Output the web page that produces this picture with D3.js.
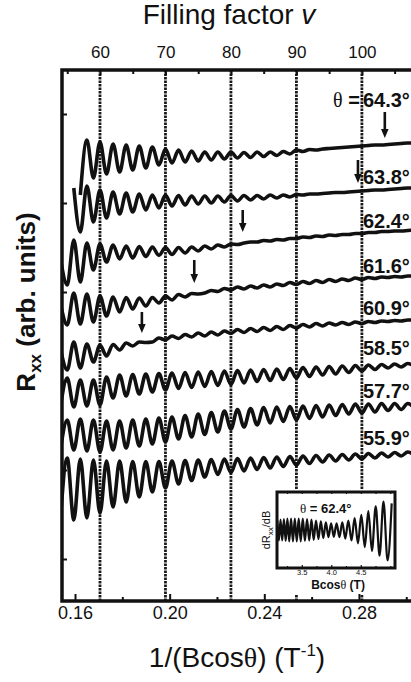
<!DOCTYPE html>
<html>
<head>
<meta charset="utf-8">
<script src="https://cdn.jsdelivr.net/npm/d3@7"></script>
<style>
  body { margin: 0; background: #fff; }
  svg { display: block; }
  text { font-family: "Liberation Sans", Arial, sans-serif; fill: #111; }
</style>
</head>
<body>
<svg id="chart" width="411" height="682"></svg>
<script>
// filling factor grid (extrema positions of the SdH oscillations)
const nuGrid = [54, 55, 56, 57, 58, 59, 60, 61, 62, 63, 64, 65, 66, 67, 68, 69, 70, 71, 72, 73,
  74, 75, 76, 77, 78, 79, 80, 81, 82, 83, 84, 85, 86, 87, 88, 89, 90, 91, 92, 93,
  94, 95, 96, 97, 98, 99, 100, 101, 102, 103, 104, 105, 106, 107, 108];

// Rxx traces (arb. units, offset for clarity), one value per nuGrid entry
const rxx643 = [null, null, null, 40.5, 46.0, 42.2, 45.8, 42.6, 45.6, 42.8, 45.5, 43.0, 45.4, 43.2, 45.3, 43.5, 45.1, 43.7, 45.0, 43.8,
  44.9, 43.9, 44.8, 44.0, 44.8, 44.1, 44.8, 44.2, 44.75, 44.25, 44.8, 44.35, 44.8, 44.45, 44.85, 44.6, 45.0, 44.85, 45.05, 45.0,
  45.1, 45.15, 45.2, 45.25, 45.3, 45.35, 45.4, 45.45, 45.5, 45.5, 45.55, 45.6, 45.65, 45.7, 45.7];
const rxx638 = [null, null, 41.2, 36.8, 41.4, 37.8, 41.0, 38.2, 40.8, 38.6, 40.7, 38.8, 40.6, 39.0, 40.5, 39.2, 40.5, 39.4, 40.45, 39.5,
  40.4, 39.6, 40.4, 39.7, 40.4, 39.8, 40.45, 39.9, 40.45, 40.0, 40.45, 40.1, 40.5, 40.2, 40.5, 40.3, 40.55, 40.5, 40.6, 40.6,
  40.65, 40.7, 40.75, 40.75, 40.8, 40.85, 40.9, 40.95, 41.0, 41.0, 41.05, 41.1, 41.15, 41.2, 41.2];
const rxx624 = [34.0, 31.5, 36.0, 31.8, 35.7, 33.0, 35.6, 33.8, 35.5, 34.1, 35.4, 34.2, 35.35, 34.35, 35.3, 34.45, 35.25, 34.55, 35.25, 34.7,
  35.3, 34.9, 35.4, 35.1, 35.5, 35.3, 35.6, 35.55, 35.7, 35.8, 35.8, 35.95, 35.9, 36.05, 36.0, 36.15, 36.15, 36.3, 36.25, 36.4,
  36.35, 36.5, 36.45, 36.55, 36.55, 36.65, 36.65, 36.75, 36.75, 36.85, 36.85, 36.9, 36.9, 36.95, 37.0];
const rxx616 = [29.5, 27.5, 30.7, 27.6, 30.6, 27.8, 30.4, 28.4, 30.3, 28.8, 30.25, 29.1, 30.2, 29.4, 30.25, 29.7, 30.4, 30.0, 30.55, 30.3,
  30.65, 30.6, 30.7, 30.95, 30.85, 31.15, 31.0, 31.3, 31.1, 31.4, 31.2, 31.5, 31.3, 31.6, 31.45, 31.75, 31.55, 31.85, 31.65, 31.95,
  31.75, 32.05, 31.85, 32.1, 31.95, 32.2, 32.05, 32.25, 32.15, 32.3, 32.25, 32.35, 32.3, 32.4, 32.4];
const rxx609 = [25.0, 23.0, 25.8, 23.2, 25.6, 23.8, 25.5, 24.4, 25.55, 25.0, 25.7, 25.4, 25.8, 25.75, 25.8, 26.2, 26.0, 26.4, 26.15, 26.55,
  26.3, 26.7, 26.4, 26.8, 26.5, 26.9, 26.65, 27.05, 26.75, 27.15, 26.85, 27.25, 26.95, 27.35, 27.05, 27.45, 27.2, 27.55, 27.3, 27.65,
  27.4, 27.7, 27.5, 27.75, 27.55, 27.8, 27.65, 27.85, 27.75, 27.9, 27.85, 27.95, 27.9, 28.0, 28.0];
const rxx585 = [19.5, 22.2, 19.3, 22.0, 19.4, 22.0, 19.5, 22.3, 20.2, 22.5, 20.4, 22.55, 20.6, 22.6, 20.8, 22.65, 21.0, 22.7, 21.15, 22.75,
  21.25, 22.8, 21.35, 22.85, 21.45, 22.9, 21.55, 22.95, 21.7, 23.0, 21.85, 23.05, 21.95, 23.1, 22.05, 23.15, 22.2, 23.25, 22.35, 23.3,
  22.5, 23.35, 22.6, 23.4, 22.75, 23.45, 22.9, 23.5, 23.05, 23.55, 23.2, 23.6, 23.3, 23.65, 23.4];
const rxx577 = [15.2, 18.0, 15.0, 18.1, 14.9, 18.0, 14.8, 17.9, 15.0, 17.9, 15.2, 18.0, 15.4, 18.1, 15.6, 18.2, 15.8, 18.3, 16.1, 18.45,
  16.3, 18.6, 16.55, 18.75, 16.8, 18.9, 17.1, 19.05, 17.3, 19.15, 17.5, 19.25, 17.7, 19.3, 17.85, 19.35, 18.0, 19.4, 18.15, 19.45,
  18.3, 19.5, 18.45, 19.55, 18.6, 19.6, 18.7, 19.6, 18.8, 19.65, 18.95, 19.65, 19.05, 19.65, 19.2];
const rxx559 = [8.5, 14.2, 8.0, 14.1, 8.2, 14.0, 8.7, 13.9, 9.3, 13.9, 9.8, 13.85, 10.3, 13.85, 10.8, 13.85, 11.2, 13.9, 11.6, 13.95,
  11.95, 14.0, 12.3, 14.05, 12.55, 14.1, 12.75, 14.15, 12.9, 14.2, 13.05, 14.25, 13.2, 14.3, 13.35, 14.35, 13.5, 14.4, 13.65, 14.45,
  13.8, 14.5, 13.9, 14.55, 14.0, 14.6, 14.1, 14.65, 14.2, 14.7, 14.3, 14.75, 14.4, 14.8, 14.5];

const angles = ["64.3", "63.8", "62.4", "61.6", "60.9", "58.5", "57.7", "55.9"];
const traces = [rxx643, rxx638, rxx624, rxx616, rxx609, rxx585, rxx577, rxx559];
const labelLevel = [49.3, 41.6, 37.2, 32.7, 28.5, 24.5, 20.2, 15.5];

// arrows marking the phase inversion
const arrowNu = [103.5, 99.4, 81.8, 74.4, 66.4];
const arrowFrom = [48.8, 44.0, 39.0, 34.0, 28.8];
const arrowTo = [46.2, 41.7, 36.8, 31.7, 26.7];

// axes
const nuMajor = [60, 70, 80, 90, 100];
const nuMinor = [55, 65, 75, 85, 95, 105];
const invMajor = [0.16, 0.20, 0.24, 0.28];
const invMinor = [0.18, 0.22, 0.26, 0.30];
const yTicks = [4.1, 13.0, 21.9, 30.8, 39.7, 48.6];

// inset: dRxx/dB at 62.4 deg
const insetB = [3.085, 3.112, 3.140, 3.168, 3.197, 3.227, 3.256, 3.287, 3.318, 3.350, 3.382, 3.415, 3.448, 3.482, 3.517,
  3.553, 3.589, 3.626, 3.664, 3.702, 3.741, 3.782, 3.823, 3.865, 3.908, 3.952, 3.997, 4.043, 4.090, 4.138,
  4.187, 4.237, 4.289, 4.342, 4.396, 4.452, 4.509, 4.568, 4.628, 4.689, 4.753, 4.818, 4.885, 4.954, 5.024];
const insetD = [10, -11, 11, -11, 11.5, -11.5, 12, -12, 12, -12, 12, -12, 12, -12, 12,
  -11.5, 11.5, -11, 11, -10.5, 10, -9.5, 9, -8.5, 8, -7.5, 7, -7, 7, -7.5,
  8, -9, 10, -11, 12.5, -14, 16, -18, 20, -22, 25, -27, 30, -32, 28];
const insetTicks = [3.5, 4.0, 4.5];
const insetMinor = [3.25, 3.75, 4.25, 4.75, 5.0];

const plotL = 62, plotT = 70, plotB = 601, plotR = 411;
const svg = d3.select('#chart');

const xNu = d3.scaleLinear().domain([54.2, 107.5]).range([plotL, plotR]);
const xInv = d3.scaleLinear().domain([0.1545, 0.302]).range([plotL, plotR]);
const y = d3.scaleLinear().domain([-0.1, 53]).range([plotB, plotT]);

svg.append('defs').append('clipPath').attr('id', 'plotclip')
  .append('rect').attr('x', plotL).attr('y', plotT)
  .attr('width', 400).attr('height', plotB - plotT);

// dashed filling-factor lines
svg.append('g').selectAll('line').data(nuMajor).join('line')
  .attr('x1', d => xNu(d)).attr('x2', d => xNu(d))
  .attr('y1', plotT).attr('y2', plotB)
  .attr('stroke', '#1a1a1a').attr('stroke-width', 2.8)
  .attr('stroke-dasharray', '2.5,1');

// traces
const line = d3.line()
  .defined(d => d[1] != null)
  .x(d => xNu(d[0])).y(d => y(d[1]))
  .curve(d3.curveMonotoneX);

svg.append('g').attr('clip-path', 'url(#plotclip)')
  .selectAll('path').data(traces).join('path')
  .attr('d', t => line(nuGrid.map((n, i) => [n, t[i]])))
  .attr('fill', 'none').attr('stroke', '#111')
  .attr('stroke-width', 3.6).attr('stroke-linejoin', 'round');

// arrows
const arrows = svg.append('g');
arrowNu.forEach((n, i) => {
  const ax = xNu(n), y0 = y(arrowFrom[i]), y1 = y(arrowTo[i]);
  arrows.append('line').attr('x1', ax).attr('x2', ax)
    .attr('y1', y0).attr('y2', y1 - 8)
    .attr('stroke', '#111').attr('stroke-width', 2.6);
  arrows.append('path')
    .attr('d', `M${ax - 3.8},${y1 - 9}L${ax + 3.8},${y1 - 9}L${ax},${y1}Z`)
    .attr('fill', '#111');
});

// angle labels
const labels = svg.append('g').attr('font-weight', 'bold').attr('font-size', 20);
angles.forEach((a, i) => {
  labels.append('text').attr('x', xNu(100) + 1).attr('y', y(labelLevel[i]))
    .text(a + '°');
});
const thetaLbl = labels.append('text').attr('x', xNu(100) - 2).attr('y', y(labelLevel[0]))
  .attr('text-anchor', 'end');
thetaLbl.append('tspan').attr('font-family', '"Liberation Serif", serif')
  .attr('font-weight', 'normal').text('θ');
thetaLbl.append('tspan').text(' = ');

// inset backdrop (covers the dashed lines under the inset and its labels)
const inL = 277, inR = 395, inT = 492, inB = 568;
svg.append('rect').attr('x', inL - 16).attr('y', inT - 2)
  .attr('width', inR - inL + 20).attr('height', plotB - inT - 4)
  .attr('fill', '#fff');

// frame
svg.append('rect').attr('x', plotL).attr('y', plotT)
  .attr('width', 400).attr('height', plotB - plotT)
  .attr('fill', 'none').attr('stroke', '#111').attr('stroke-width', 3.5);

// top axis (filling factor)
function styleAxis(g, size) {
  g.select('.domain').remove();
  g.attr('font-family', '"Liberation Sans", Arial, sans-serif').attr('font-size', size);
  g.selectAll('line').attr('stroke', '#111').attr('stroke-width', 2);
  g.selectAll('text').attr('fill', '#111');
}
svg.append('g').attr('transform', `translate(0,${plotT})`)
  .call(d3.axisTop(xNu).tickValues(nuMajor).tickSize(-5).tickPadding(12).tickFormat(d3.format('d')))
  .call(g => styleAxis(g, 17));
svg.append('g').attr('transform', `translate(0,${plotT})`)
  .call(d3.axisTop(xNu).tickValues(nuMinor).tickSize(-4).tickFormat(''))
  .call(g => styleAxis(g, 17));

// bottom axis 1/(B cos theta)
svg.append('g').attr('transform', `translate(0,${plotB})`)
  .call(d3.axisBottom(xInv).tickValues(invMajor).tickSize(-7).tickPadding(5).tickFormat(d3.format('.2f')))
  .call(g => styleAxis(g, 18));
svg.append('g').attr('transform', `translate(0,${plotB})`)
  .call(d3.axisBottom(xInv).tickValues(invMinor).tickSize(-4).tickFormat(''))
  .call(g => styleAxis(g, 18));

// left ticks
svg.append('g').attr('transform', `translate(${plotL},0)`)
  .call(d3.axisLeft(y).tickValues(yTicks).tickSize(-5).tickFormat(''))
  .call(g => styleAxis(g, 12));

// titles
const topTitle = svg.append('text').attr('x', 229).attr('y', 24)
  .attr('text-anchor', 'middle').attr('font-size', 28);
topTitle.append('tspan').text('Filling factor ');
topTitle.append('tspan').attr('font-style', 'italic').text('v');

const botTitle = svg.append('text').attr('x', 237).attr('y', 667)
  .attr('text-anchor', 'middle').attr('font-size', 28);
botTitle.append('tspan').text('1/(Bcos');
botTitle.append('tspan').attr('font-family', '"Liberation Serif", serif').text('θ');
botTitle.append('tspan').text(') (T');
botTitle.append('tspan').attr('font-size', 17).attr('dy', -11).text('-1');
botTitle.append('tspan').attr('dy', 11).text(')');

const yTitle = svg.append('text').attr('transform', 'translate(35,302) rotate(-90)')
  .attr('text-anchor', 'middle').attr('font-size', 26).attr('font-weight', 'bold');
yTitle.append('tspan').text('R');
yTitle.append('tspan').attr('font-size', 17).attr('dy', 6).text('xx');
yTitle.append('tspan').attr('dy', -6).text(' (arb. units)');

// inset
const xB = d3.scaleLinear().domain([3.08, 5.08]).range([inL, inR]);
const yD = d3.scaleLinear().domain([-40, 40]).range([inB, inT]);
const inset = svg.append('g');
inset.append('path')
  .attr('d', d3.line().x(d => xB(d[0])).y(d => yD(d[1])).curve(d3.curveMonotoneX)(insetB.map((b, i) => [b, insetD[i]])))
  .attr('fill', 'none').attr('stroke', '#111').attr('stroke-width', 2.2);
inset.append('g').attr('transform', `translate(0,${inB})`)
  .call(d3.axisBottom(xB).tickValues(insetTicks).tickSize(-3).tickPadding(2).tickFormat(d3.format('.1f')))
  .call(g => styleAxis(g, 7.5));
inset.append('g').attr('transform', `translate(0,${inB})`)
  .call(d3.axisBottom(xB).tickValues(insetMinor).tickSize(-2).tickFormat(''))
  .call(g => styleAxis(g, 7.5));
inset.append('g').attr('transform', `translate(0,${inT})`)
  .call(d3.axisTop(xB).tickValues(insetTicks.concat(insetMinor)).tickSize(-2).tickFormat(''))
  .call(g => styleAxis(g, 7.5));
inset.selectAll('g line').attr('stroke-width', 1.2);
inset.selectAll('g text').attr('fill', '#555');
inset.append('rect').attr('x', inL).attr('y', inT).attr('width', inR - inL).attr('height', inB - inT)
  .attr('fill', 'none').attr('stroke', '#111').attr('stroke-width', 3);

const inTheta = inset.append('text').attr('x', 300).attr('y', 513)
  .attr('font-size', 13).attr('font-weight', 'bold');
inTheta.append('tspan').attr('font-family', '"Liberation Serif", serif').attr('font-weight', 'normal').text('θ');
inTheta.append('tspan').text(' = 62.4°');

const inX = inset.append('text').attr('x', 338).attr('y', 589)
  .attr('text-anchor', 'middle').attr('font-size', 12).attr('font-weight', 'bold');
inX.append('tspan').text('Bcos');
inX.append('tspan').attr('font-family', '"Liberation Serif", serif').attr('font-weight', 'normal').text('θ');
inX.append('tspan').text(' (T)');

const inY = inset.append('text').attr('transform', 'translate(270,530) rotate(-90)')
  .attr('text-anchor', 'middle').attr('font-size', 11);
inY.append('tspan').text('dR');
inY.append('tspan').attr('font-size', 8).attr('dy', 3).text('xx');
inY.append('tspan').attr('dy', -3).text('/dB');
</script>
</body>
</html>
